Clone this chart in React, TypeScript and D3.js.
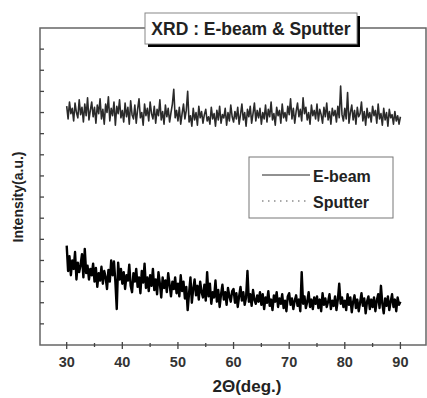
import React from 'react';
import * as d3 from 'd3';

// 2-theta grid, 0.25 deg step from 30 to 90
const angles = d3.range(0, 241).map((i) => 30 + i * 0.25);

// E-beam intensity (counts)
const ebeam = [
  470, 350, 420, 330, 400, 360, 440, 310, 390, 345, 380, 430, 320, 455, 340, 375, 310, 360, 330, 385,
  300, 365, 275, 340, 305, 370, 290, 350, 320, 265, 355, 300, 400, 330, 395, 300, 170, 390, 310, 360,
  290, 345, 265, 330, 305, 380, 280, 250, 340, 300, 360, 275, 320, 245, 350, 295, 385, 270, 320, 255,
  330, 280, 360, 260, 310, 240, 345, 290, 225, 320, 270, 305, 250, 340, 285, 230, 300, 265, 320, 245,
  290, 230, 330, 255, 300, 220, 275, 165, 245, 320, 200, 265, 310, 235, 280, 215, 300, 250, 225, 285,
  210, 345, 230, 290, 195, 250, 225, 305, 205, 260, 180, 240, 285, 215, 250, 190, 270, 230, 205, 255,
  265, 200, 245, 180, 230, 275, 210, 250, 190, 225, 350, 205, 240, 185, 260, 215, 195, 235, 205, 250,
  190, 240, 170, 225, 200, 255, 185, 215, 165, 235, 205, 250, 180, 220, 195, 240, 175, 210, 160, 230,
  245, 190, 220, 170, 210, 235, 185, 215, 160, 345, 195, 230, 175, 205, 250, 180, 215, 170, 225, 195,
  230, 175, 215, 160, 245, 190, 220, 180, 205, 240, 170, 210, 185, 230, 165, 215, 290, 195, 225, 180,
  210, 165, 240, 190, 225, 155, 205, 235, 175, 215, 160, 200, 245, 185, 220, 150, 205, 230, 170, 215,
  180, 225, 160, 210, 240, 175, 280, 195, 150, 220, 185, 230, 165, 205, 240, 180, 215, 160, 225, 190,
  205,
];

// Sputter intensity (counts)
const sputter = [
  1130, 1070, 1150, 1095, 1120, 1060, 1145, 1100, 1075, 1160, 1090, 1125, 1055, 1140, 1085, 1170, 1065, 1110, 1150, 1080,
  1125, 1050, 1135, 1095, 1165, 1070, 1115, 1045, 1140, 1100, 1175, 1060, 1120, 1085, 1150, 1040, 1130, 1095, 1160, 1075,
  1110, 1055, 1145, 1080, 1125, 1045, 1155, 1090, 1070, 1135, 1050, 1115, 1165, 1075, 1100, 1040, 1140, 1085, 1120, 1060,
  1150, 1095, 1070, 1130, 1050, 1115, 1085, 1160, 1065, 1105, 1045, 1135, 1080, 1120, 1055, 1100, 1140, 1210, 1075, 1110,
  1060, 1125, 1045, 1095, 1140, 1070, 1110, 1200, 1055, 1085, 1035, 1120, 1065, 1100, 1040, 1130, 1075, 1105, 1050, 1090,
  1115, 1060, 1080, 1045, 1125, 1070, 1095, 1035, 1110, 1065, 1130, 1050, 1090, 1075, 1120, 1040, 1100, 1060, 1135, 1080,
  1055, 1105, 1070, 1125, 1045, 1090, 1140, 1065, 1100, 1035, 1115, 1080, 1130, 1050, 1095, 1145, 1060, 1110, 1075, 1120,
  1045, 1100, 1070, 1135, 1055, 1115, 1080, 1150, 1065, 1095, 1040, 1125, 1085, 1110, 1050, 1140, 1075, 1100, 1060, 1130,
  1090, 1165, 1070, 1120, 1050, 1105, 1145, 1080, 1115, 1060, 1170, 1095, 1125, 1065, 1100, 1045, 1135, 1085, 1110, 1070,
  1140, 1060, 1115, 1090, 1050, 1125, 1080, 1145, 1065, 1105, 1045, 1120, 1085, 1110, 1055, 1130, 1075, 1225, 1090, 1060,
  1120, 1070, 1195, 1050, 1100, 1135, 1065, 1110, 1045, 1125, 1080, 1095, 1150, 1060, 1105, 1040, 1120, 1075, 1100, 1055,
  1130, 1085, 1110, 1050, 1140, 1070, 1095, 1040, 1120, 1065, 1100, 1035, 1115, 1075, 1090, 1045, 1105, 1060, 1085, 1045,
  1080,
];

const xMajor = [30, 40, 50, 60, 70, 80, 90];
const xMinor = [35, 45, 55, 65, 75, 85];
const yTicks = d3.range(100, 1500, 100);

const title = 'XRD : E-beam & Sputter';
const legendItems = ['E-beam', 'Sputter'];

const W = 427;
const H = 398;
const margin = { left: 40, right: 1, top: 28, bottom: 53 };
const axisColor = '#666';
const font = '"Liberation Sans", Arial, sans-serif';

export default function App() {
  const x = d3.scaleLinear().domain([25.2, 94.6]).range([margin.left, W - margin.right]);
  const y = d3.scaleLinear().domain([0, 1500]).range([H - margin.bottom, margin.top]);

  const line = d3
    .line<number>()
    .x((d, i) => x(angles[i]))
    .y((d) => y(d));

  const bottom = H - margin.bottom;
  const left = margin.left;
  const right = W - margin.right;
  const top = margin.top;

  return (
    <svg
      width={W}
      height={H}
      style={{ position: 'absolute', left: 0, top: 0, background: '#fff' }}
      fontFamily={font}
    >
      {/* data */}
      <path d={line(sputter) ?? ''} fill="none" stroke="#2a2a2a" strokeWidth={1.6} strokeLinejoin="round" />
      <path d={line(ebeam) ?? ''} fill="none" stroke="#000" strokeWidth={2.4} strokeLinejoin="round" />

      {/* frame */}
      <rect x={left} y={top} width={right - left} height={bottom - top} fill="none" stroke={axisColor} strokeWidth={1.5} />

      {/* y ticks, inward */}
      {yTicks.map((t) => (
        <line key={t} x1={left} x2={left + 4} y1={y(t)} y2={y(t)} stroke="#444" strokeWidth={1.3} />
      ))}

      {/* x ticks */}
      {xMajor.map((t) => (
        <g key={t}>
          <line x1={x(t)} x2={x(t)} y1={bottom - 3} y2={bottom + 4} stroke="#444" strokeWidth={1.3} />
          <text x={x(t)} y={367} textAnchor="middle" fontSize={14.5} fontWeight="bold" fill="#333">
            {t}
          </text>
        </g>
      ))}
      {xMinor.map((t) => (
        <line key={t} x1={x(t)} x2={x(t)} y1={bottom - 2} y2={bottom + 2} stroke="#444" strokeWidth={1.3} />
      ))}

      {/* axis titles */}
      <text x={247} y={392} textAnchor="middle" fontSize={17} fontWeight="bold" fill="#222">
        2Θ(deg.)
      </text>
      <text
        transform="translate(23,197) rotate(-90)"
        textAnchor="middle"
        fontSize={14}
        fontWeight="bold"
        fill="#222"
      >
        Intensity(a.u.)
      </text>

      {/* title box with shadow */}
      <rect x={148} y={16} width={212} height={31} fill="#000" />
      <rect x={145} y={13} width={212} height={31} fill="#fff" stroke="#888" strokeWidth={1} />
      <text x={251} y={35} textAnchor="middle" fontSize={17.5} fontWeight="bold" fill="#222">
        {title}
      </text>

      {/* legend */}
      <rect x={249} y={157} width={144} height={61} fill="#fff" stroke="#777" strokeWidth={1} />
      <line x1={262} x2={310} y1={175} y2={175} stroke="#222" strokeWidth={1} />
      <text x={313} y={182} fontSize={16} fontWeight="bold" fill="#222">
        {legendItems[0]}
      </text>
      <line x1={262} x2={310} y1={201} y2={201} stroke="#555" strokeWidth={1.2} strokeDasharray="1.5,4.5" />
      <text x={313} y={208} fontSize={16} fontWeight="bold" fill="#222">
        {legendItems[1]}
      </text>
    </svg>
  );
}
